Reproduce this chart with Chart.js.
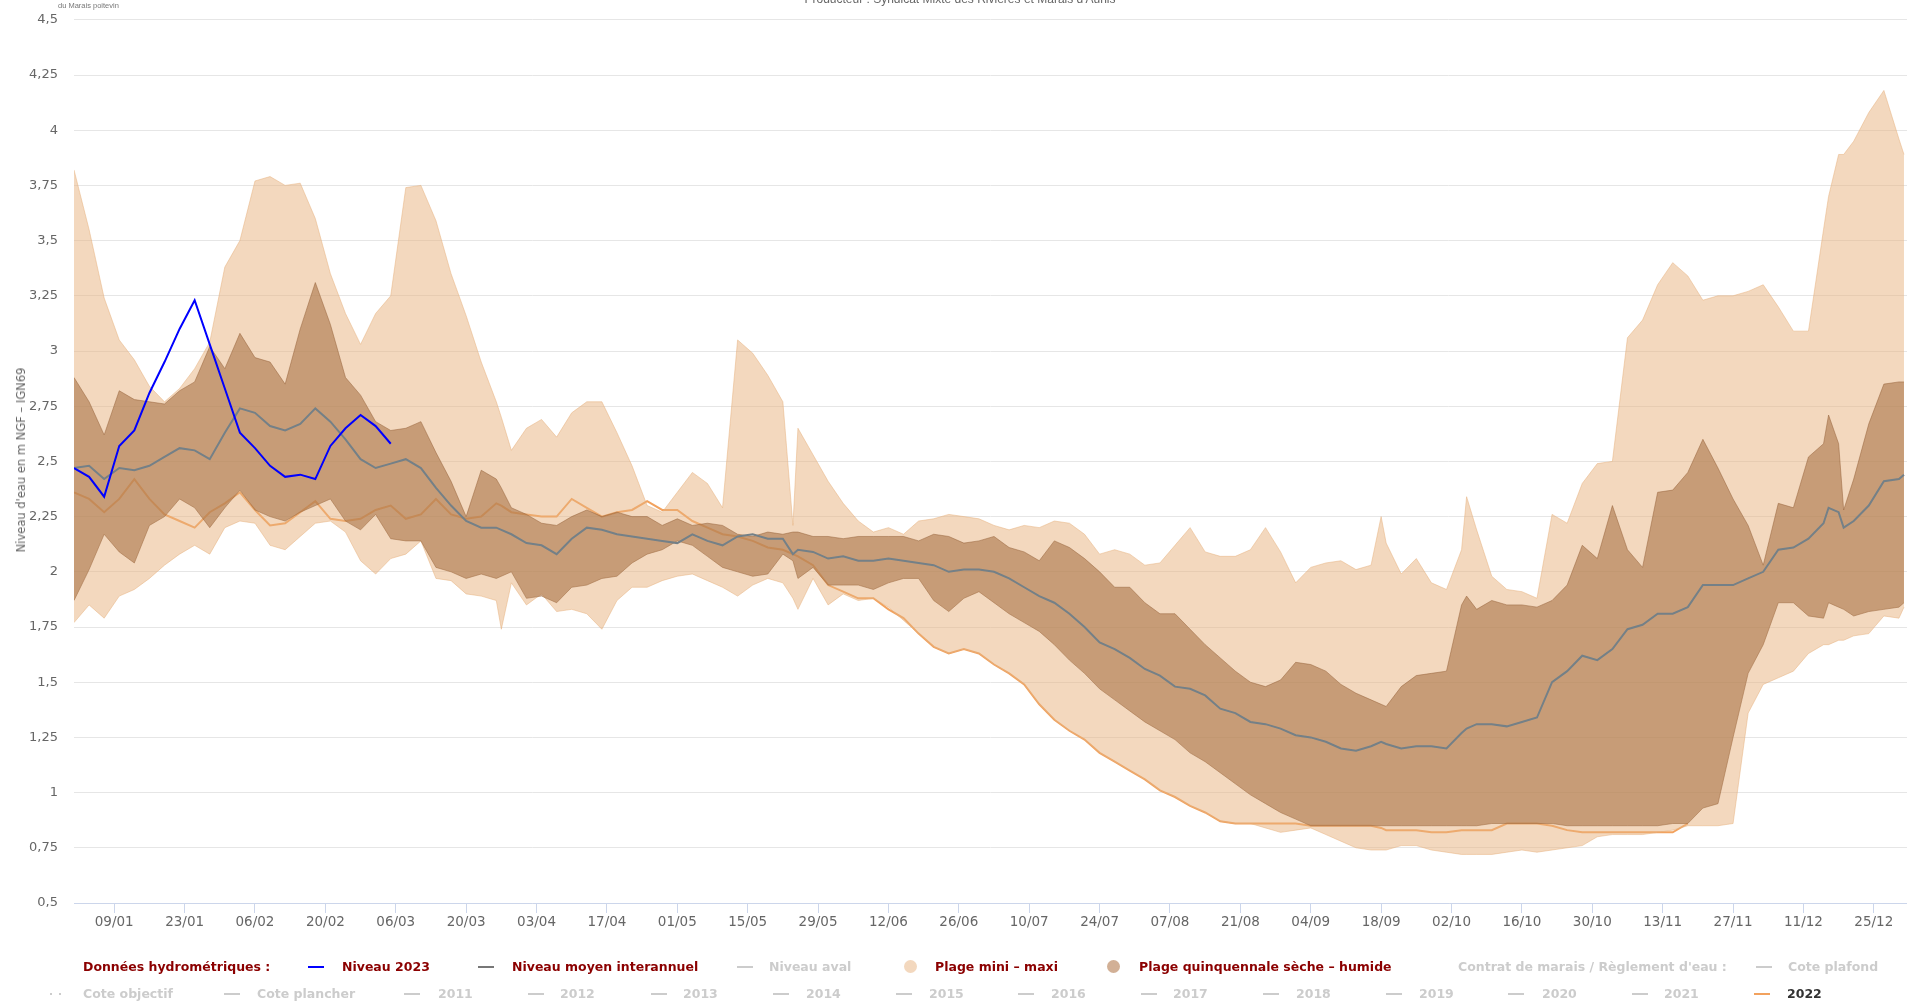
<!DOCTYPE html>
<html><head><meta charset="utf-8">
<script src="https://cdn.jsdelivr.net/npm/chart.js@4.4.1/dist/chart.umd.min.js"></script>
<style>
html,body{margin:0;padding:0;background:#fff;overflow:hidden;width:1907px;height:1001px;position:relative;font-family:"DejaVu Sans",sans-serif}
#c{position:absolute;left:0;top:-4px}
.t{position:absolute;white-space:nowrap}
.lg{position:absolute;white-space:nowrap;font:bold 12.5px "DejaVu Sans",sans-serif;line-height:16px}
.r1{top:959px}.r2{top:986px}
.red{color:#8b0000}.off{color:#cccccc}.on{color:#333333}
.sym{position:absolute;height:2px;width:16px}
.s1{top:966px}.s2{top:993px}
.dot{position:absolute;width:13px;height:13px;border-radius:50%;top:960px}
</style></head><body>
<canvas id="c" width="1907" height="1005"></canvas>
<div class="t" style="left:58px;top:1px;font:7.5px 'Liberation Sans',sans-serif;color:#777">du Marais poitevin</div>
<div class="t" style="left:960px;top:-8px;transform:translateX(-50%);font:12px 'Liberation Sans',sans-serif;color:#666">Producteur : Syndicat Mixte des Rivières et Marais d'Aunis</div>
<div class="t" style="left:21px;top:460px;transform:translate(-50%,-50%) rotate(-90deg);font:11.5px 'DejaVu Sans',sans-serif;color:#666">Niveau d'eau en m NGF – IGN69</div>

<div class="lg r1 red" style="left:83px">Données hydrométriques :</div>
<div class="sym s1" style="left:308px;background:#0000ff"></div>
<div class="lg r1 red" style="left:342px">Niveau 2023</div>
<div class="sym s1" style="left:478px;background:#777"></div>
<div class="lg r1 red" style="left:512px">Niveau moyen interannuel</div>
<div class="sym s1" style="left:737px;background:#ccc"></div>
<div class="lg r1 off" style="left:769px">Niveau aval</div>
<div class="dot" style="left:904px;background:#f3d8be"></div>
<div class="lg r1 red" style="left:935px">Plage mini – maxi</div>
<div class="dot" style="left:1107px;background:#d2b096"></div>
<div class="lg r1 red" style="left:1139px">Plage quinquennale sèche – humide</div>
<div class="lg r1 off" style="left:1458px">Contrat de marais / Règlement d'eau :</div>
<div class="sym s1" style="left:1756px;background:#ccc"></div>
<div class="lg r1 off" style="left:1788px">Cote plafond</div>

<div class="sym s2" style="left:50px;width:2px;background:#ccc"></div>
<div class="sym s2" style="left:59px;width:2px;background:#ccc"></div>
<div class="lg r2 off" style="left:83px">Cote objectif</div>
<div class="sym s2" style="left:224px;background:#ccc"></div>
<div class="lg r2 off" style="left:257px">Cote plancher</div>
<div class="sym s2" style="left:404px;background:#ccc"></div>
<div class="lg r2 off" style="left:438px">2011</div>
<div class="sym s2" style="left:528px;background:#ccc"></div>
<div class="lg r2 off" style="left:560px">2012</div>
<div class="sym s2" style="left:651px;background:#ccc"></div>
<div class="lg r2 off" style="left:683px">2013</div>
<div class="sym s2" style="left:773px;background:#ccc"></div>
<div class="lg r2 off" style="left:806px">2014</div>
<div class="sym s2" style="left:896px;background:#ccc"></div>
<div class="lg r2 off" style="left:929px">2015</div>
<div class="sym s2" style="left:1018px;background:#ccc"></div>
<div class="lg r2 off" style="left:1051px">2016</div>
<div class="sym s2" style="left:1141px;background:#ccc"></div>
<div class="lg r2 off" style="left:1173px">2017</div>
<div class="sym s2" style="left:1263px;background:#ccc"></div>
<div class="lg r2 off" style="left:1296px">2018</div>
<div class="sym s2" style="left:1386px;background:#ccc"></div>
<div class="lg r2 off" style="left:1419px">2019</div>
<div class="sym s2" style="left:1508px;background:#ccc"></div>
<div class="lg r2 off" style="left:1542px">2020</div>
<div class="sym s2" style="left:1632px;background:#ccc"></div>
<div class="lg r2 off" style="left:1664px">2021</div>
<div class="sym s2" style="left:1754px;background:#f2a25e"></div>
<div class="lg r2 on" style="left:1787px">2022</div>

<script>
// Day of year (0 = 1 January)
const days = [0,3,6,9,12,15,18,21,24,27,
30,33,36,39,42,45,48,51,54,57,
60,63,66,69,72,75,78,81,84,85,
87,90,93,96,99,102,105,108,111,114,
117,120,123,126,129,132,135,138,141,143,
144,147,150,153,156,159,162,165,168,171,
174,177,180,183,186,189,192,195,198,201,
204,207,210,213,216,219,222,225,228,231,
234,237,240,243,246,249,252,255,258,260,
261,264,267,270,273,276,277,279,282,285,
288,291,294,297,300,303,306,309,312,315,
318,321,324,327,330,333,336,339,342,345,
348,349,351,352,354,357,360,363,364];

const plageMaxi = [3.82,3.55,3.24,3.05,2.96,2.84,2.77,2.83,2.92,3.04,
3.38,3.50,3.77,3.79,3.75,3.76,3.60,3.35,3.17,3.03,
3.17,3.25,3.74,3.75,3.59,3.35,3.16,2.95,2.77,2.70,
2.55,2.65,2.69,2.61,2.72,2.77,2.77,2.63,2.48,2.30,
2.27,2.36,2.45,2.40,2.29,3.05,2.99,2.89,2.77,2.21,
2.65,2.53,2.41,2.31,2.23,2.18,2.20,2.17,2.23,2.24,
2.26,2.25,2.24,2.21,2.19,2.21,2.20,2.23,2.22,2.17,
2.08,2.10,2.08,2.03,2.04,2.12,2.20,2.09,2.07,2.07,
2.10,2.20,2.09,1.95,2.02,2.04,2.05,2.01,2.03,2.25,
2.13,1.99,2.06,1.95,1.92,2.10,2.34,2.19,1.98,1.92,
1.91,1.88,2.26,2.22,2.40,2.49,2.50,3.06,3.14,3.30,
3.40,3.34,3.23,3.25,3.25,3.27,3.30,3.20,3.09,3.09,
3.55,3.70,3.89,3.89,3.95,4.08,4.18,3.96,3.89];

const plageMini = [1.77,1.85,1.79,1.89,1.92,1.97,2.03,2.08,2.12,2.08,
2.20,2.23,2.22,2.12,2.10,2.16,2.22,2.23,2.18,2.05,
1.99,2.06,2.08,2.14,1.97,1.96,1.90,1.89,1.87,1.74,
1.95,1.85,1.90,1.82,1.83,1.81,1.74,1.87,1.93,1.93,
1.96,1.98,1.99,1.96,1.93,1.89,1.94,1.97,1.95,1.88,
1.83,1.97,1.85,1.90,1.87,1.88,1.84,1.78,1.72,1.66,
1.63,1.65,1.63,1.58,1.54,1.49,1.40,1.33,1.28,1.24,
1.18,1.14,1.10,1.06,1.01,0.98,0.94,0.91,0.87,0.86,
0.86,0.84,0.82,0.83,0.84,0.81,0.78,0.75,0.74,0.74,
0.74,0.76,0.76,0.74,0.73,0.72,0.72,0.72,0.72,0.73,
0.74,0.73,0.74,0.75,0.76,0.80,0.81,0.81,0.81,0.82,
0.83,0.85,0.85,0.85,0.86,1.36,1.49,1.52,1.55,1.63,
1.67,1.67,1.69,1.69,1.71,1.72,1.80,1.79,1.84];

const quinquennaleHumide = [2.88,2.77,2.62,2.82,2.78,2.77,2.76,2.82,2.86,3.02,
2.92,3.08,2.97,2.95,2.85,3.10,3.31,3.12,2.88,2.80,
2.68,2.64,2.65,2.68,2.54,2.41,2.25,2.46,2.42,2.38,
2.29,2.26,2.22,2.21,2.25,2.28,2.25,2.27,2.25,2.25,
2.21,2.24,2.21,2.22,2.21,2.17,2.16,2.18,2.17,2.18,
2.18,2.16,2.16,2.15,2.16,2.16,2.16,2.16,2.14,2.17,
2.16,2.13,2.14,2.16,2.11,2.09,2.05,2.14,2.11,2.06,
2.00,1.93,1.93,1.86,1.81,1.81,1.74,1.67,1.61,1.55,
1.50,1.48,1.51,1.59,1.58,1.55,1.49,1.45,1.42,1.40,
1.39,1.48,1.53,1.54,1.55,1.85,1.89,1.83,1.87,1.85,
1.85,1.84,1.87,1.94,2.12,2.06,2.30,2.10,2.02,2.36,
2.37,2.45,2.60,2.47,2.33,2.21,2.03,2.31,2.29,2.52,
2.58,2.71,2.58,2.28,2.42,2.67,2.85,2.86,2.86];

const quinquennaleSeche = [1.87,2.01,2.17,2.09,2.04,2.21,2.25,2.33,2.29,2.20,
2.29,2.37,2.28,2.25,2.23,2.27,2.30,2.33,2.23,2.19,
2.26,2.15,2.14,2.14,2.02,2.00,1.97,1.99,1.97,1.98,
2.00,1.88,1.89,1.86,1.93,1.94,1.97,1.98,2.04,2.08,
2.10,2.14,2.12,2.07,2.02,2.00,1.98,1.99,2.08,2.05,
1.97,2.02,1.94,1.94,1.94,1.92,1.95,1.97,1.97,1.87,
1.82,1.88,1.91,1.86,1.81,1.77,1.73,1.67,1.60,1.54,
1.47,1.42,1.37,1.32,1.28,1.24,1.18,1.14,1.09,1.04,
0.99,0.95,0.91,0.88,0.85,0.85,0.85,0.85,0.85,0.85,
0.85,0.85,0.85,0.85,0.85,0.85,0.85,0.85,0.86,0.86,
0.86,0.86,0.86,0.85,0.85,0.85,0.85,0.85,0.85,0.85,
0.86,0.86,0.93,0.95,1.25,1.54,1.67,1.86,1.86,1.80,
1.79,1.86,1.84,1.83,1.80,1.82,1.83,1.84,1.86];

const niveauMoyen = [2.47,2.48,2.42,2.47,2.46,2.48,2.52,2.56,2.55,2.51,
2.63,2.74,2.72,2.66,2.64,2.67,2.74,2.68,2.60,2.51,
2.47,2.49,2.51,2.47,2.38,2.30,2.23,2.20,2.20,2.19,
2.17,2.13,2.12,2.08,2.15,2.20,2.19,2.17,2.16,2.15,
2.14,2.13,2.17,2.14,2.12,2.16,2.17,2.15,2.15,2.08,
2.10,2.09,2.06,2.07,2.05,2.05,2.06,2.05,2.04,2.03,
2.00,2.01,2.01,2.00,1.97,1.93,1.89,1.86,1.81,1.75,
1.68,1.65,1.61,1.56,1.53,1.48,1.47,1.44,1.38,1.36,
1.32,1.31,1.29,1.26,1.25,1.23,1.20,1.19,1.21,1.23,
1.22,1.20,1.21,1.21,1.20,1.27,1.29,1.31,1.31,1.30,
1.32,1.34,1.50,1.55,1.62,1.60,1.65,1.74,1.76,1.81,
1.81,1.84,1.94,1.94,1.94,1.97,2.00,2.10,2.11,2.15,
2.22,2.29,2.27,2.20,2.23,2.30,2.41,2.42,2.44];

const niveau2022 = [2.36,2.33,2.27,2.33,2.42,2.33,2.26,2.23,2.20,2.27,
2.31,2.36,2.28,2.21,2.22,2.27,2.32,2.24,2.23,2.24,
2.28,2.30,2.24,2.26,2.33,2.26,2.24,2.25,2.31,2.30,
2.27,2.26,2.25,2.25,2.33,2.29,2.25,2.27,2.28,2.32,
2.28,2.28,2.23,2.20,2.17,2.16,2.14,2.11,2.10,2.08,
2.07,2.03,1.94,1.91,1.88,1.88,1.83,1.79,1.72,1.66,
1.63,1.65,1.63,1.58,1.54,1.49,1.40,1.33,1.28,1.24,
1.18,1.14,1.10,1.06,1.01,0.98,0.94,0.91,0.87,0.86,
0.86,0.86,0.86,0.86,0.85,0.85,0.85,0.85,0.85,0.84,
0.83,0.83,0.83,0.82,0.82,0.83,0.83,0.83,0.83,0.86,
0.86,0.86,0.85,0.83,0.82,0.82,0.82,0.82,0.82,0.82,
0.82,0.86];

const niveau2023 = [2.47,2.43,2.34,2.57,2.64,2.81,2.95,3.10,3.23,3.03,
2.83,2.63,2.56,2.48,2.43,2.44,2.42,2.57,2.65,2.71,
2.66,2.58];

const tickDays = [8,22,36,50,64,78,92,106,120,134,148,162,176,190,204,218,232,246,260,274,288,302,316,330,344,358];
const tickLabels = ['09/01','23/01','06/02','20/02','06/03','20/03','03/04','17/04','01/05','15/05','29/05','12/06','26/06','10/07','24/07','07/08','21/08','04/09','18/09','02/10','16/10','30/10','13/11','27/11','11/12','25/12'];
const yTicks = [0.5,0.75,1,1.25,1.5,1.75,2,2.25,2.5,2.75,3,3.25,3.5,3.75,4,4.25,4.5];

function pts(vals){ return days.map((d,i)=>({x:d, y: i < vals.length ? vals[i] : null})); }

Chart.defaults.font.family = '"DejaVu Sans", sans-serif';
const base = {pointRadius:0, pointHoverRadius:0, tension:0, spanGaps:false};

new Chart(document.getElementById('c'), {
  type:'line',
  data:{datasets:[
    Object.assign({label:'Niveau 2023', data:pts(niveau2023), borderColor:'#0000ff', borderWidth:2, fill:false, order:0}, base),
    Object.assign({label:'Niveau moyen interannuel', data:pts(niveauMoyen), borderColor:'#748087', borderWidth:2, fill:false, order:1}, base),
    Object.assign({label:'Quinquennale humide', data:pts(quinquennaleHumide), borderColor:'rgba(150,98,58,0.5)', borderWidth:1, backgroundColor:'rgba(170,116,72,0.6)', fill:{target:3}, order:2}, base),
    Object.assign({label:'Quinquennale sèche', data:pts(quinquennaleSeche), borderColor:'rgba(150,98,58,0.5)', borderWidth:1, fill:false, order:3}, base),
    Object.assign({label:'Maxi', data:pts(plageMaxi), borderColor:'rgba(231,177,125,0.5)', borderWidth:1, backgroundColor:'rgba(231,177,125,0.5)', fill:{target:5}, order:4}, base),
    Object.assign({label:'Mini', data:pts(plageMini), borderColor:'rgba(231,177,125,0.5)', borderWidth:1, fill:false, order:5}, base),
    Object.assign({label:'2022', data:pts(niveau2022), borderColor:'#f2a25e', borderWidth:2, fill:false, order:6}, base)
  ]},
  options:{
    responsive:false, animation:false, devicePixelRatio:1,
    layout:{padding:{top:13,left:0,right:0,bottom:0}},
    plugins:{legend:{display:false}, tooltip:{enabled:false}, filler:{propagate:false}},
    scales:{
      x:{type:'linear', min:0, max:364.6,
        afterBuildTicks:a=>{a.ticks = tickDays.map(v=>({value:v}));},
        afterFit:s=>{s.height = 98;},
        grid:{drawOnChartArea:false, drawTicks:true, tickLength:10, color:'#ccd6eb'},
        border:{display:true, color:'#ccd6eb', width:1},
        ticks:{autoSkip:false, maxRotation:0, minRotation:0, padding:1, color:'#666', font:{size:13.5},
          callback:v=>{const i = tickDays.indexOf(v); return i>=0 ? tickLabels[i] : '';}}
      },
      y:{min:0.5, max:4.5,
        afterBuildTicks:a=>{a.ticks = yTicks.map(v=>({value:v}));},
        afterFit:s=>{s.width = 74;},
        grid:{color:'#e6e6e6', drawTicks:false, lineWidth:1},
        border:{display:false},
        ticks:{padding:16, color:'#666', font:{size:13},
          callback:v=>String(Math.round(v*100)/100).replace('.',',')}
      }
    }
  }
});
</script>
</body></html>
